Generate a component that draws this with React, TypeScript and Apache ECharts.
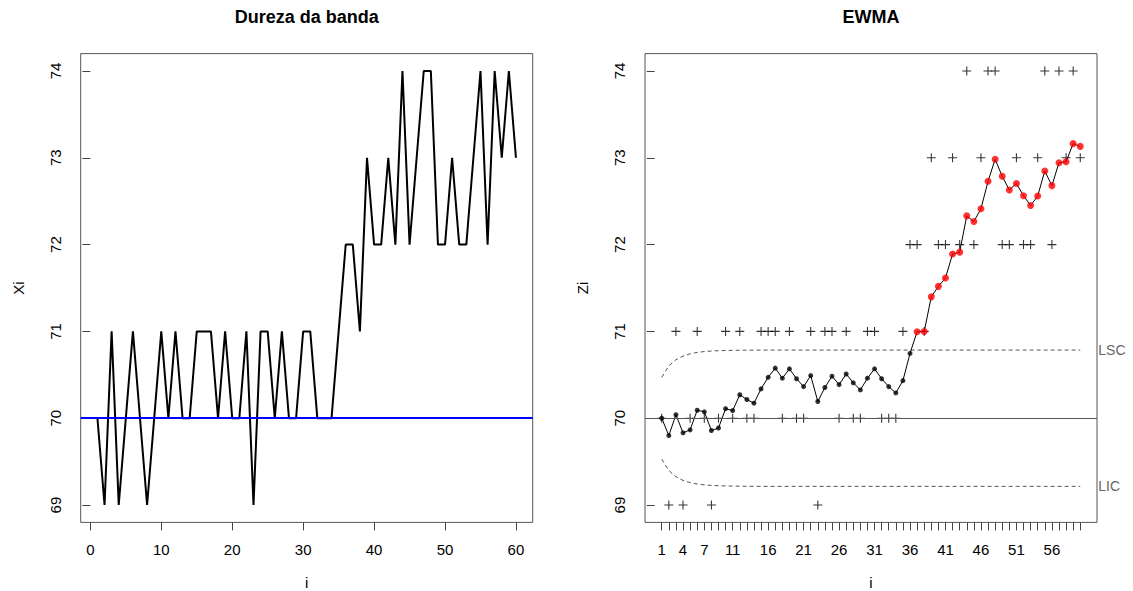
import React, { useEffect, useRef } from "react";
import * as echarts from "echarts";

// ---- data ----
const iValues: number[] = Array.from({ length: 60 }, (_, k) => k + 1);

const xi: number[] = [
  70, 69, 71, 69, 70, 71, 70, 69, 70, 71,
  70, 71, 70, 70, 71, 71, 71, 70, 71, 70,
  70, 71, 69, 71, 71, 70, 71, 70, 70, 71,
  71, 70, 70, 70, 71, 72, 72, 71, 73, 72,
  72, 73, 72, 74, 72, 73, 74, 74, 72, 72,
  73, 72, 72, 73, 74, 72, 74, 73, 74, 73,
];

const zi: number[] = [
  70.0, 69.8, 70.04, 69.832, 69.866, 70.092, 70.074, 69.859, 69.887, 70.11,
  70.088, 70.27, 70.216, 70.173, 70.338, 70.471, 70.577, 70.461, 70.569, 70.455,
  70.364, 70.491, 70.193, 70.354, 70.484, 70.387, 70.509, 70.408, 70.326, 70.461,
  70.569, 70.455, 70.364, 70.291, 70.433, 70.746, 70.997, 70.998, 71.398, 71.519,
  71.615, 71.892, 71.913, 72.331, 72.265, 72.412, 72.729, 72.983, 72.787, 72.629,
  72.704, 72.563, 72.45, 72.56, 72.848, 72.679, 72.943, 72.954, 73.163, 73.131,
];

const lsc: number[] = [
  70.471, 70.603, 70.674, 70.716, 70.742, 70.758, 70.768, 70.774, 70.778, 70.78,
  70.782, 70.783, 70.784, 70.784, 70.785, 70.785, 70.785, 70.785, 70.785, 70.785,
  70.785, 70.785, 70.785, 70.785, 70.785, 70.785, 70.785, 70.785, 70.785, 70.785,
  70.785, 70.785, 70.785, 70.785, 70.785, 70.785, 70.785, 70.785, 70.785, 70.785,
  70.785, 70.785, 70.785, 70.785, 70.785, 70.785, 70.785, 70.785, 70.785, 70.785,
  70.785, 70.785, 70.785, 70.785, 70.785, 70.785, 70.785, 70.785, 70.785, 70.785,
];

const lic: number[] = [
  69.529, 69.397, 69.326, 69.284, 69.258, 69.242, 69.232, 69.226, 69.222, 69.22,
  69.218, 69.217, 69.216, 69.216, 69.215, 69.215, 69.215, 69.215, 69.215, 69.215,
  69.215, 69.215, 69.215, 69.215, 69.215, 69.215, 69.215, 69.215, 69.215, 69.215,
  69.215, 69.215, 69.215, 69.215, 69.215, 69.215, 69.215, 69.215, 69.215, 69.215,
  69.215, 69.215, 69.215, 69.215, 69.215, 69.215, 69.215, 69.215, 69.215, 69.215,
  69.215, 69.215, 69.215, 69.215, 69.215, 69.215, 69.215, 69.215, 69.215, 69.215,
];

const centerValue = 70;
const yTicks: number[] = [69, 70, 71, 72, 73, 74];
const xTicksLeft: number[] = [0, 10, 20, 30, 40, 50, 60];
const xLabelsRight: number[] = [1, 4, 7, 11, 16, 21, 26, 31, 36, 41, 46, 51, 56];

const FONT = "'Liberation Sans', Arial, sans-serif";
const PLUS = "path://M4.4,0H5.6V4.4H10V5.6H5.6V10H4.4V5.6H0V4.4H4.4Z";

export default function App() {
  const ref = useRef<HTMLDivElement>(null);

  useEffect(() => {
    if (!ref.current) return;
    const chart = echarts.init(ref.current, null, { renderer: "svg" });

    const labelStyle = { color: "#000", fontSize: 15, fontFamily: FONT };
    const tickLine = { color: "#444", width: 1 };

    const makeX = (grid: number, ticks: number[], labels: number[]) => ({
      type: "value",
      gridIndex: grid,
      min: -1.36,
      max: 62.36,
      axisLine: { show: false },
      splitLine: { show: false },
      axisTick: { show: true, customValues: ticks, length: 8, lineStyle: tickLine },
      axisLabel: { customValues: labels, margin: 20, ...labelStyle },
      name: "i",
      nameLocation: "middle",
      nameGap: 53,
      nameTextStyle: { ...labelStyle, lineHeight: 15 },
    });

    const makeY = (grid: number, name: string) => ({
      type: "value",
      gridIndex: grid,
      min: 68.8,
      max: 74.2,
      axisLine: { show: false },
      splitLine: { show: false },
      axisTick: { show: true, customValues: yTicks, length: 8, lineStyle: tickLine },
      axisLabel: { customValues: yTicks, rotate: 90, margin: 18, ...labelStyle },
      name,
      nameLocation: "middle",
      nameGap: 55,
      nameTextStyle: labelStyle,
    });

    const pts = (vals: number[]) => iValues.map((i, k) => [i, vals[k]]);
    const isOut = (k: number) => zi[k] > lsc[k] || zi[k] < lic[k];
    const zOut = iValues.map((i, k) => [i, zi[k]]).filter((p, k) => isOut(k));
    const zIn = iValues.map((i, k) => [i, zi[k]]).filter((p, k) => !isOut(k));

    const gridBase = {
      top: 53.6,
      width: 452,
      height: 468.8,
      show: true,
      borderColor: "#555",
      borderWidth: 1,
      backgroundColor: "transparent",
      containLabel: false,
      outerBoundsMode: "none",
    };

    chart.setOption({
      animation: false,
      backgroundColor: "#fff",
      textStyle: { fontFamily: FONT },
      graphic: [
        {
          type: "text",
          x: 306.7,
          y: 17,
          style: {
            text: "Dureza da banda",
            textAlign: "center",
            textVerticalAlign: "middle",
            font: `bold 18px ${FONT}`,
            fill: "#000",
          },
        },
        {
          type: "text",
          x: 871,
          y: 17,
          style: {
            text: "EWMA",
            textAlign: "center",
            textVerticalAlign: "middle",
            font: `bold 18px ${FONT}`,
            fill: "#000",
          },
        },
      ],
      grid: [
        { ...gridBase, left: 80.7 },
        { ...gridBase, left: 645 },
      ],
      xAxis: [makeX(0, xTicksLeft, xTicksLeft), makeX(1, iValues, xLabelsRight)],
      yAxis: [makeY(0, "Xi"), makeY(1, "Zi")],
      series: [
        {
          type: "line",
          xAxisIndex: 0,
          yAxisIndex: 0,
          data: pts(xi),
          symbol: "none",
          lineStyle: { color: "#000", width: 2 },
          markLine: {
            silent: true,
            symbol: "none",
            label: { show: false },
            lineStyle: { color: "#0000ff", width: 2, type: "solid" },
            data: [{ yAxis: centerValue }],
          },
          z: 2,
        },
        {
          type: "line",
          xAxisIndex: 1,
          yAxisIndex: 1,
          data: pts(lsc),
          symbol: "none",
          lineStyle: { color: "#555", width: 1, type: [4, 3] },
          endLabel: { show: true, formatter: "LSC", color: "#666", fontSize: 14, fontFamily: FONT, distance: 18 },
          markLine: {
            silent: true,
            symbol: "none",
            label: { show: false },
            lineStyle: { color: "#555", width: 1, type: "solid" },
            data: [{ yAxis: centerValue }],
          },
        },
        {
          type: "line",
          xAxisIndex: 1,
          yAxisIndex: 1,
          data: pts(lic),
          symbol: "none",
          lineStyle: { color: "#555", width: 1, type: [4, 3] },
          endLabel: { show: true, formatter: "LIC", color: "#666", fontSize: 14, fontFamily: FONT, distance: 18 },
        },
        {
          type: "scatter",
          xAxisIndex: 1,
          yAxisIndex: 1,
          data: pts(xi),
          symbol: PLUS,
          symbolSize: 9,
          itemStyle: { color: "#000" },
          z: 3,
        },
        {
          type: "line",
          xAxisIndex: 1,
          yAxisIndex: 1,
          data: pts(zi),
          symbol: "none",
          lineStyle: { color: "#000", width: 1 },
          z: 4,
        },
        {
          type: "scatter",
          xAxisIndex: 1,
          yAxisIndex: 1,
          data: zIn,
          symbol: "circle",
          symbolSize: 5,
          itemStyle: { color: "#000" },
          z: 5,
        },
        {
          type: "scatter",
          xAxisIndex: 1,
          yAxisIndex: 1,
          data: zOut,
          symbol: "circle",
          symbolSize: 7,
          itemStyle: { color: "#ff0000" },
          z: 5,
        },
      ],
    });

    return () => chart.dispose();
  }, []);

  return (
    <div
      ref={ref}
      style={{ position: "absolute", left: 0, top: 0, width: 1133, height: 591 }}
    />
  );
}
